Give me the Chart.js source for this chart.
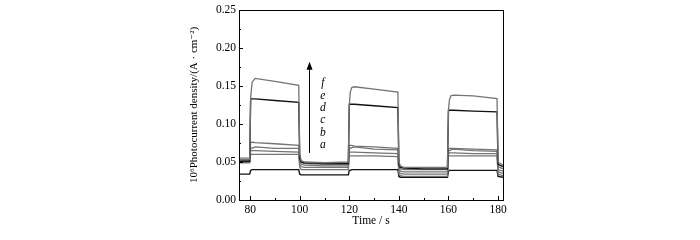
<!DOCTYPE html>
<html>
<head>
<meta charset="utf-8">
<script src="https://cdn.jsdelivr.net/npm/chart.js@4.4.1/dist/chart.umd.min.js"></script>
<style>
  html, body { margin: 0; padding: 0; background: #fff; }
  #wrap { width: 700px; height: 240px; }
</style>
</head>
<body>
<div id="wrap"><canvas id="c" width="700" height="240"></canvas></div>
<script>
// time samples (s), shared by every curve
const times = [75.5, 79.8, 80.2, 80.8, 82, 90, 99.6, 100, 100.6, 102, 110, 119.6,
  120, 120.4, 121, 122, 130, 139.6, 140, 140.6, 142, 150, 159.6,
  160, 160.4, 161, 162, 170, 179.6, 180, 182];

// photocurrent density of each curve
const curveF = [0.053, 0.053, 0.135, 0.155, 0.160, 0.156, 0.151, 0.060, 0.052, 0.050, 0.049, 0.050,
  0.125, 0.142, 0.148, 0.149, 0.146, 0.142, 0.050, 0.045, 0.043, 0.043, 0.043,
  0.118, 0.132, 0.137, 0.138, 0.137, 0.1335, 0.050, 0.046];
const curveE = [0.051, 0.051, 0.133, 0.133, 0.133, 0.131, 0.1285, 0.055, 0.050, 0.049, 0.048, 0.048,
  0.126, 0.126, 0.126, 0.126, 0.124, 0.1215, 0.047, 0.043, 0.042, 0.041, 0.041,
  0.118, 0.118, 0.118, 0.118, 0.117, 0.116, 0.047, 0.044];
const curveD = [0.055, 0.055, 0.076, 0.076, 0.0755, 0.074, 0.072, 0.053, 0.049, 0.048, 0.047, 0.047,
  0.072, 0.072, 0.072, 0.071, 0.070, 0.068, 0.044, 0.041, 0.040, 0.040, 0.040,
  0.067, 0.068, 0.068, 0.068, 0.067, 0.066, 0.044, 0.041];
const curveC = [0.052, 0.052, 0.069, 0.068, 0.070, 0.068, 0.068, 0.050, 0.047, 0.046, 0.045, 0.045,
  0.068, 0.068, 0.069, 0.070, 0.067, 0.066, 0.041, 0.038, 0.037, 0.037, 0.037,
  0.064, 0.065, 0.066, 0.067, 0.065, 0.064, 0.040, 0.038];
const curveB = [0.050, 0.050, 0.065, 0.065, 0.065, 0.064, 0.063, 0.046, 0.044, 0.043, 0.043, 0.043,
  0.063, 0.063, 0.063, 0.063, 0.062, 0.061, 0.037, 0.035, 0.034, 0.034, 0.034,
  0.061, 0.062, 0.062, 0.062, 0.061, 0.061, 0.037, 0.035];
const curveB2 = [0.049, 0.049, 0.060, 0.060, 0.060, 0.060, 0.060, 0.043, 0.040, 0.040, 0.040, 0.040,
  0.058, 0.058, 0.058, 0.058, 0.058, 0.057, 0.034, 0.032, 0.031, 0.031, 0.031,
  0.058, 0.058, 0.058, 0.058, 0.058, 0.058, 0.034, 0.032];
const curveA = [0.034, 0.034, 0.039, 0.040, 0.040, 0.040, 0.040, 0.034, 0.033, 0.033, 0.033, 0.033,
  0.039, 0.039, 0.040, 0.040, 0.040, 0.040, 0.031, 0.030, 0.030, 0.030, 0.030,
  0.038, 0.039, 0.039, 0.039, 0.039, 0.039, 0.031, 0.030];

const xTicks = [80, 100, 120, 140, 160, 180];
const xMinorTicks = [90, 110, 130, 150, 170];
const yTicks = [0, 0.05, 0.10, 0.15, 0.20, 0.25];
const yMinorTicks = [0.025, 0.075, 0.125, 0.175, 0.225];
const curveLetters = ["f", "e", "d", "c", "b", "a"];

const SERIF = "'Liberation Serif', 'DejaVu Serif', serif";
const GREY = "#747474";
const BLACK = "#111";

function pts(ys) {
    return ys.map((y, i) => ({ x: times[i], y }));
}

function line(label, ys, color, width) {
    return {
        label,
        data: pts(ys),
        borderColor: color,
        borderWidth: width,
        pointRadius: 0,
        tension: 0,
        fill: false,
    };
}

// frame, inward ticks, arrow and curve letters
const decorations = {
    id: "decorations",
    afterDraw(chart) {
        const ctx = chart.ctx;
        const area = chart.chartArea;
        const xs = chart.scales.x;
        const ys = chart.scales.y;
        ctx.save();
        ctx.strokeStyle = "#000";
        ctx.lineWidth = 1;
        ctx.strokeRect(area.left + 0.5, area.top + 0.5, area.right - area.left, area.bottom - area.top);

        ctx.beginPath();
        xTicks.forEach((v) => {
            const px = Math.round(xs.getPixelForValue(v)) + 0.5;
            ctx.moveTo(px, area.bottom);
            ctx.lineTo(px, area.bottom - 4);
        });
        xMinorTicks.forEach((v) => {
            const px = Math.round(xs.getPixelForValue(v)) + 0.5;
            ctx.moveTo(px, area.bottom);
            ctx.lineTo(px, area.bottom - 2);
        });
        yTicks.forEach((v) => {
            const py = Math.round(ys.getPixelForValue(v)) + 0.5;
            ctx.moveTo(area.left, py);
            ctx.lineTo(area.left + 4, py);
        });
        yMinorTicks.forEach((v) => {
            const py = Math.round(ys.getPixelForValue(v)) + 0.5;
            ctx.moveTo(area.left, py);
            ctx.lineTo(area.left + 2, py);
        });
        ctx.stroke();

        // arrow
        const ax = Math.round(xs.getPixelForValue(103.7)) + 0.5;
        const aTop = ys.getPixelForValue(0.182);
        const aBot = ys.getPixelForValue(0.062);
        ctx.beginPath();
        ctx.moveTo(ax, aBot);
        ctx.lineTo(ax, aTop + 6);
        ctx.stroke();
        ctx.fillStyle = "#000";
        ctx.beginPath();
        ctx.moveTo(ax, aTop);
        ctx.lineTo(ax - 3, aTop + 8);
        ctx.lineTo(ax + 3, aTop + 8);
        ctx.closePath();
        ctx.fill();

        // letters
        ctx.font = "italic 11.5px " + SERIF;
        ctx.textAlign = "center";
        ctx.textBaseline = "middle";
        const lx = xs.getPixelForValue(109.3);
        const top = 0.1535, bottom = 0.0724;
        curveLetters.forEach((t, i) => {
            const v = top - (top - bottom) * i / (curveLetters.length - 1);
            ctx.fillText(t, lx, ys.getPixelForValue(v));
        });
        ctx.restore();
    },
};

new Chart(document.getElementById("c"), {
    type: "line",
    data: {
        datasets: [
            line("f", curveF, GREY, 1.3),
            line("e", curveE, BLACK, 1.4),
            line("d", curveD, GREY, 1.3),
            line("c", curveC, GREY, 1.3),
            line("b", curveB, GREY, 1.3),
            line("b2", curveB2, GREY, 1.3),
            line("a", curveA, BLACK, 1.4),
        ],
    },
    options: {
        responsive: false,
        animation: false,
        layout: { padding: { left: 183, right: 197, top: 10, bottom: 12 } },
        plugins: {
            legend: { display: false },
            tooltip: { enabled: false },
        },
        scales: {
            x: {
                type: "linear",
                min: 75.5,
                max: 182,
                afterBuildTicks: (s) => { s.ticks = xTicks.map((v) => ({ value: v })); },
                afterFit: (s) => { s.height = 28; },
                grid: { display: false, drawTicks: false },
                border: { display: false },
                ticks: {
                    color: "#000",
                    padding: 3,
                    maxRotation: 0,
                    font: { family: SERIF, size: 11.5 },
                },
                title: {
                    display: true,
                    text: "Time / s",
                    color: "#000",
                    padding: 0,
                    font: { family: SERIF, size: 11.5 },
                },
            },
            y: {
                min: 0,
                max: 0.25,
                afterBuildTicks: (s) => { s.ticks = yTicks.map((v) => ({ value: v })); },
                afterFit: (s) => { s.width = 56; },
                grid: { display: false, drawTicks: false },
                border: { display: false },
                ticks: {
                    color: "#000",
                    padding: 3,
                    font: { family: SERIF, size: 11.5 },
                    callback: (v) => Number(v).toFixed(2),
                },
                title: {
                    display: true,
                    text: "10\u2076Photocurrent density/(A \u00b7 cm\u207b\u00b2)",
                    color: "#000",
                    padding: { top: 5, bottom: 0 },
                    font: { family: SERIF, size: 11 },
                },
            },
        },
    },
    plugins: [decorations],
});
</script>
</body>
</html>
